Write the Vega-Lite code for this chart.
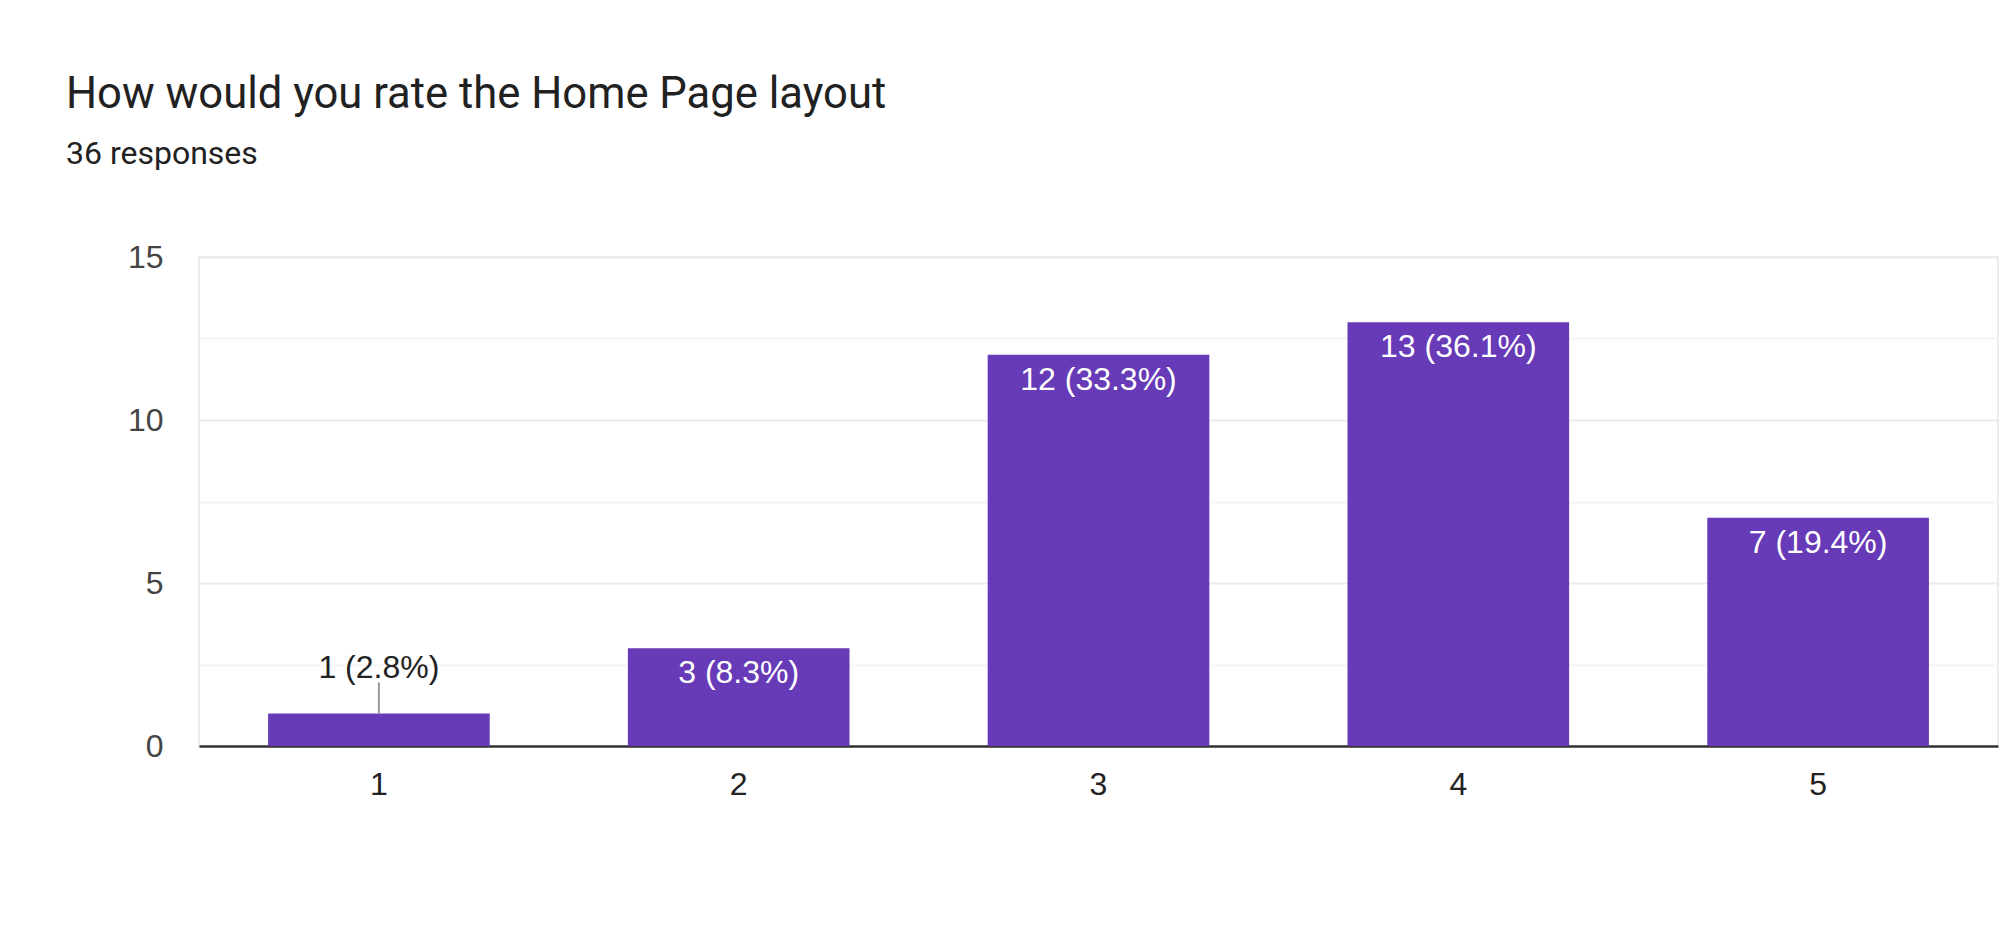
{
  "$schema": "https://vega.github.io/schema/vega-lite/v6.json",
  "autosize": {"type": "none"},
  "padding": {"left": 199, "top": 257, "right": 1, "bottom": 205},
  "width": 1799,
  "height": 489,
  "background": "white",
  "config": {
    "font": "Roboto",
    "view": {"stroke": "#ebebeb", "strokeWidth": 2}
  },
  "title": {
    "text": "How would you rate the Home Page layout",
    "subtitle": "36 responses",
    "anchor": "start",
    "frame": "group",
    "dx": -133,
    "offset": 70,
    "font": "Roboto",
    "fontSize": 43.6,
    "fontWeight": "normal",
    "color": "#212121",
    "subtitleFont": "Roboto",
    "subtitleFontSize": 32,
    "subtitleColor": "#212121",
    "subtitlePadding": 21
  },
  "data": {
    "values": [
      {"rating": "1", "count": 1, "label": "1 (2.8%)"},
      {"rating": "2", "count": 3, "label": "3 (8.3%)"},
      {"rating": "3", "count": 12, "label": "12 (33.3%)"},
      {"rating": "4", "count": 13, "label": "13 (36.1%)"},
      {"rating": "5", "count": 7, "label": "7 (19.4%)"}
    ]
  },
  "encoding": {
    "x": {
      "field": "rating",
      "type": "nominal",
      "scale": {"paddingInner": 0.384, "paddingOuter": 0.192},
      "axis": {
        "title": null,
        "labelAngle": 0,
        "labelFont": "Liberation Sans",
        "labelFontSize": 32,
        "labelColor": "#222222",
        "labelPadding": 23,
        "ticks": false,
        "domainColor": "#333333",
        "domainWidth": 2.5,
        "grid": false
      }
    },
    "y": {
      "field": "count",
      "type": "quantitative",
      "scale": {"domain": [0, 15], "nice": false},
      "axis": {
        "title": null,
        "values": [0, 2.5, 5, 7.5, 10, 12.5, 15],
        "labelExpr": "datum.value % 5 === 0 ? datum.label : ''",
        "labelFont": "Liberation Sans",
        "labelFontSize": 32,
        "labelColor": "#444444",
        "labelPadding": 36,
        "ticks": false,
        "domain": false,
        "gridColor": {"condition": {"test": "datum.value % 5 === 0", "value": "#ebebeb"}, "value": "#f5f5f5"},
        "gridWidth": 2
      }
    }
  },
  "layer": [
    {"mark": {"type": "bar", "color": "#673ab7"}},
    {
      "transform": [{"filter": "datum.count < 2"}],
      "mark": {"type": "rule", "color": "#999999", "strokeWidth": 2, "y2Offset": -31},
      "encoding": {"y2": {"field": "count"}}
    },
    {
      "transform": [{"filter": "datum.count >= 2"}],
      "mark": {"type": "text", "baseline": "top", "dy": 10, "fontSize": 32, "color": "white", "font": "Liberation Sans"},
      "encoding": {"text": {"field": "label"}}
    },
    {
      "transform": [{"filter": "datum.count < 2"}],
      "mark": {"type": "text", "baseline": "alphabetic", "dy": -35, "fontSize": 32, "color": "#222222", "font": "Liberation Sans"},
      "encoding": {"text": {"field": "label"}}
    }
  ]
}
